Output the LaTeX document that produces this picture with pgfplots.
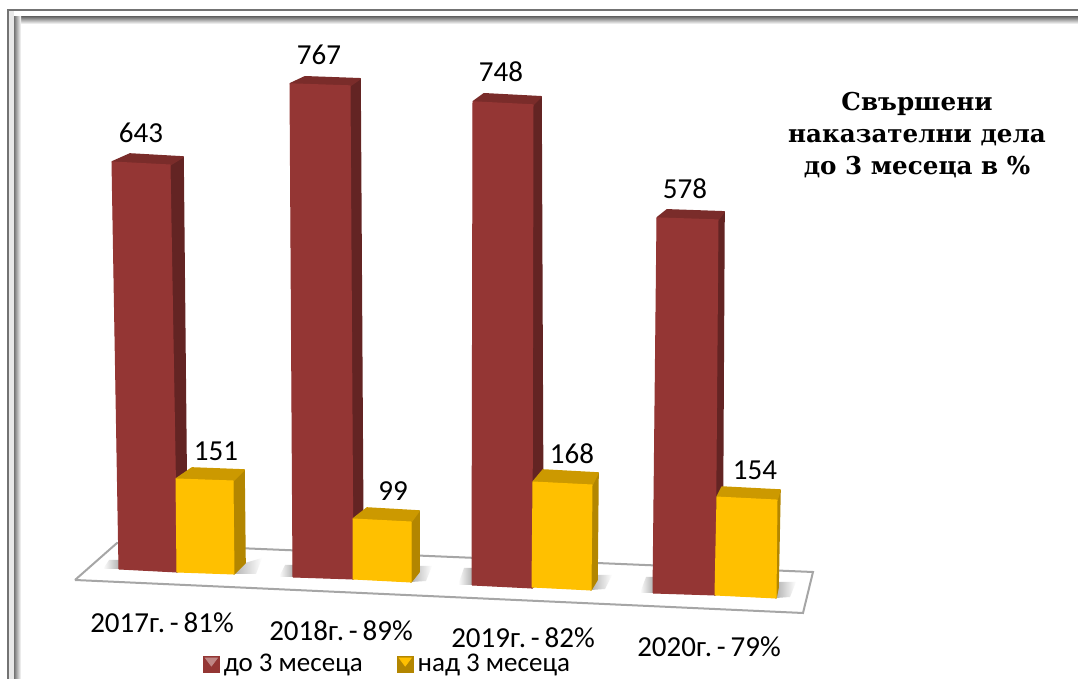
\documentclass[border=0pt]{standalone}
\usepackage{fontspec}
\setmainfont{Carlito}
\newfontfamily\titlefont{DejaVu Serif}
\usepackage{pgfplots}
\usepackage{pgfplotstable}
\pgfplotsset{compat=1.18}

\definecolor{redfront}{HTML}{943634}
\definecolor{redside}{HTML}{632423}
\definecolor{redtop}{HTML}{7A2C2A}
\definecolor{yelfront}{HTML}{FFC000}
\definecolor{yelside}{HTML}{B38600}
\definecolor{yeltop}{HTML}{CC9900}
\definecolor{floorline}{HTML}{A6A6A6}

% one row per column of the 3D chart, positions in picture pixels, k = pixels per case
\pgfplotstableread{
val k     xbl ybl xbr ybr xtl xtr xbkl xbkr dy xsb ysb
643 0.633 119 569 177 572 112 170 130  183  8  187 560
767 0.643 293 577 353 579 290 350 305  360  7  363 570
748 0.646 472 585 532 588 473 533 484  541  8  543 578
578 0.649 653 593 715 595 657 718 667  724  8  722 586
151 0.616 177 572 234 574 176 233 192  244  11 245 563
99  0.606 353 579 411 582 353 411 367  419  11 419 572
168 0.625 532 587 591 590 533 592 543  598  12 597 580
154 0.636 715 595 776 598 717 777 722  780  10 778 588
}\bars

\newcommand\getbar[2]{\pgfplotstablegetelem{#1}{#2}\of\bars\expandafter\let\csname b#2\endcsname\pgfplotsretval}
\newcommand\drawbar[2]{%
  \getbar{#1}{val}\getbar{#1}{k}\getbar{#1}{xbl}\getbar{#1}{ybl}\getbar{#1}{xbr}\getbar{#1}{ybr}%
  \getbar{#1}{xtl}\getbar{#1}{xtr}\getbar{#1}{xbkl}\getbar{#1}{xbkr}\getbar{#1}{dy}\getbar{#1}{xsb}\getbar{#1}{ysb}%
  \pgfmathsetmacro\ytl{\bybl-\bk*\bval}%
  \pgfmathsetmacro\ytr{\bybr-\bk*\bval}%
  \pgfmathsetmacro\ybkl{\ytl-\bdy}%
  \pgfmathsetmacro\ybkr{\ytr-\bdy}%
  % side, top, front
  \addplot[forget plot, fill=#2side, draw=#2side, line width=0.8pt, line join=round] coordinates
    {(\bxtr,\ytr) (\bxbkr,\ybkr) (\bxsb,\bysb) (\bxbr,\bybr) (\bxtr,\ytr)};
  \addplot[forget plot, fill=#2top, draw=#2top, line width=0.8pt, line join=round] coordinates
    {(\bxtl,\ytl) (\bxbkl,\ybkl) (\bxbkr,\ybkr) (\bxtr,\ytr) (\bxtl,\ytl)};
  \addplot[forget plot, fill=#2front, draw=#2front, line width=0.5pt, line join=round] coordinates
    {(\bxbl,\bybl) (\bxtl,\ytl) (\bxtr,\ytr) (\bxbr,\bybr) (\bxbl,\bybl)};
}

\begin{document}
\begin{tikzpicture}
\begin{axis}[
  width=539pt, height=339.5pt, scale only axis,
  xmin=0, xmax=1078, ymin=0, ymax=679, y dir=reverse,
  hide axis,
  font=\fontsize{14.5}{16}\selectfont,
  legend columns=2,
  legend cell align=left,
  legend style={at={(203/1078,1-664/679)}, anchor=west, draw=none, fill=none,
    inner sep=0pt, outer sep=0pt, font=\fontsize{13.5}{16}\selectfont,
    /tikz/every even column/.append style={column sep=15pt}},
]
% keeps the page at the full picture size, hide axis drops the axis box
\path (axis cs:0,0) rectangle (axis cs:1078,679);

% frame
\fill[black!9] (axis cs:8,679) rectangle (axis cs:14,11);
\shade[top color=black!55, bottom color=white] (axis cs:14,17) rectangle (axis cs:1078,24);
\shade[left color=black!55, right color=white] (axis cs:14,17) rectangle (axis cs:21,679);
\draw[black!55, line width=1pt] (axis cs:7.5,679) -- (axis cs:7.5,10.5) -- (axis cs:1078,10.5);

% floor
\addplot[forget plot, fill=white, draw=floorline, line width=1pt] coordinates
  {(75,580) (117,543) (813,572) (803,613) (75,580)};
\shade[left color=white, right color=black!30] (axis cs:103,569) -- (axis cs:109,560) -- (axis cs:119,560) -- (axis cs:119,569) -- cycle;
\shade[left color=white, right color=black!30] (axis cs:279,577) -- (axis cs:285,565) -- (axis cs:293,565) -- (axis cs:293,577) -- cycle;
\shade[left color=white, right color=black!30] (axis cs:458,585) -- (axis cs:464,568) -- (axis cs:472,568) -- (axis cs:472,585) -- cycle;
\shade[left color=white, right color=black!30] (axis cs:640,593) -- (axis cs:646,577) -- (axis cs:653,577) -- (axis cs:653,593) -- cycle;
\shade[left color=black!30, right color=white] (axis cs:245,563) -- (axis cs:262,558) -- (axis cs:256,574) -- (axis cs:234,574) -- cycle;
\shade[left color=black!30, right color=white] (axis cs:419,566) -- (axis cs:432,566) -- (axis cs:426,581) -- (axis cs:411,582) -- cycle;
\shade[left color=black!30, right color=white] (axis cs:597,575) -- (axis cs:612,575) -- (axis cs:605,589) -- (axis cs:591,590) -- cycle;
\shade[left color=black!30, right color=white] (axis cs:778,582) -- (axis cs:796,582) -- (axis cs:790,597) -- (axis cs:776,598) -- cycle;

% columns
\pgfplotsinvokeforeach{0,...,3}{\drawbar{#1}{red}}
\pgfplotsinvokeforeach{4,...,7}{\drawbar{#1}{yel}}

% value labels
\addplot[forget plot, draw=none, point meta=explicit symbolic, nodes near coords,
  nodes near coords align=center, every node near coord/.append style={anchor=center, inner sep=0pt}]
  coordinates {(141,133)[643] (319,55)[767] (501,72)[748] (685,189)[578]
               (216,451)[151] (393,491)[99] (572,454)[168] (755,470)[154]};

% category labels
\node at (axis cs:162,623) {2017г.\,-\,81\%};
\node at (axis cs:341,631) {2018г.\,-\,89\%};
\node at (axis cs:523,638) {2019г.\,-\,82\%};
\node at (axis cs:709,647) {2020г.\,-\,79\%};

% title
\node[font=\titlefont\bfseries\fontsize{12.3}{16.2}\selectfont, align=center] at (axis cs:917,135)
  {Свършени\\наказателни дела\\до 3 месеца в \%};

% legend
\addlegendimage{legend image code/.code={
  \fill[redfront] (0pt,-4pt) rectangle (8pt,4pt);
  \fill[redfront!60!white] (1pt,3pt) -- (7pt,3pt) -- (4pt,-1pt) -- cycle;}}
\addlegendentry{до 3 месеца}
\addlegendimage{legend image code/.code={
  \fill[yelside] (0pt,-4pt) rectangle (8pt,4pt);
  \fill[yelfront] (1pt,3pt) -- (7pt,3pt) -- (4pt,-1pt) -- cycle;}}
\addlegendentry{над 3 месеца}
\end{axis}
\end{tikzpicture}
\end{document}
